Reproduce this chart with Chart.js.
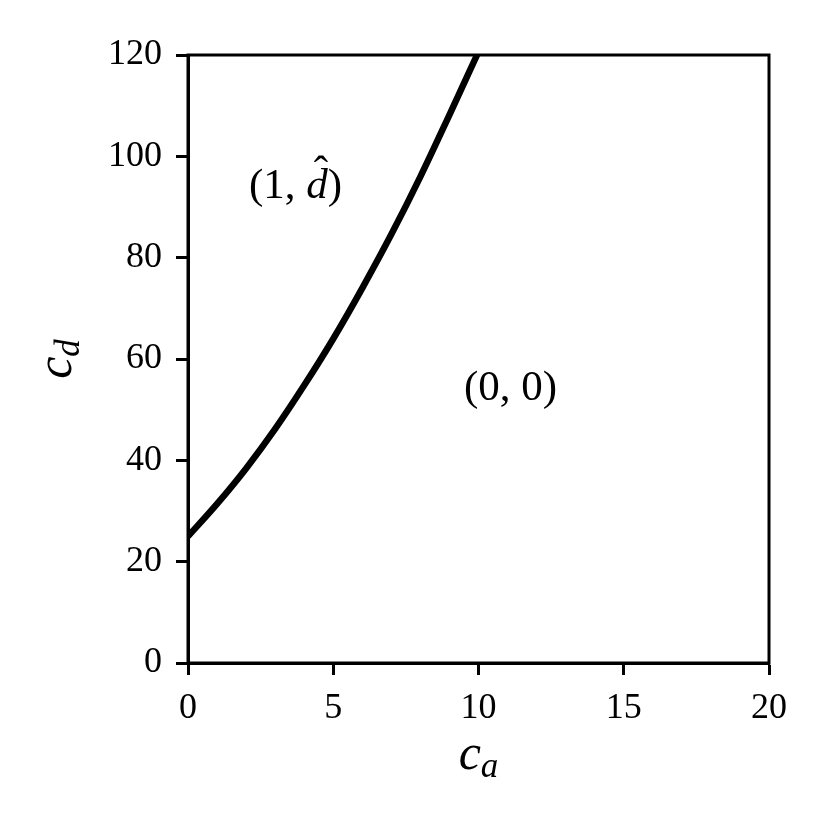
<!DOCTYPE html>
<html>
<head>
<meta charset="utf-8">
<script src="https://cdn.jsdelivr.net/npm/chart.js@4"></script>
<style>
  html, body { margin: 0; padding: 0; background: #fff; }
</style>
</head>
<body>
<canvas id="chart" width="830" height="830"></canvas>
<script>
// Граница между областями
const caValues = [0, 1, 2, 3, 4, 5, 6, 7, 8, 9, 9.95];
const cdValues = [25, 31.4, 38.4, 46.2, 54.8, 64.0, 74.0, 84.6, 96.0, 108.2, 120];

// Деления осей
const xTicks = [0, 5, 10, 15, 20];
const yTicks = [0, 20, 40, 60, 80, 100, 120];

// Подписи областей
const regionTexts = ["(1, ", "d", ")", "(0, 0)"];

const SERIF = "'Liberation Serif', 'DejaVu Serif', serif";

// Рисует строку из кусков с разными шрифтами, по центру x
function drawRuns(ctx, x, y, runs) {
  let total = 0;
  runs.forEach((r) => {
    ctx.font = r.font;
    r.w = ctx.measureText(r.t).width;
    total += r.w;
  });
  let cx = x - total / 2;
  const pos = [];
  runs.forEach((r) => {
    ctx.font = r.font;
    ctx.fillText(r.t, cx, y + (r.dy || 0));
    pos.push(cx);
    cx += r.w;
  });
  return pos;
}

// Рамка, подписи осей и областей
const mathText = {
  id: "mathText",
  afterDraw(chart) {
    const ctx = chart.ctx;
    const area = chart.chartArea;
    const xs = chart.scales.x;
    const ys = chart.scales.y;
    ctx.save();
    ctx.strokeStyle = "#000";
    ctx.lineWidth = 3;
    ctx.strokeRect(area.left, area.top, area.right - area.left, area.bottom - area.top);

    ctx.fillStyle = "#000";
    ctx.textAlign = "left";
    ctx.textBaseline = "alphabetic";

    // подпись оси x
    drawRuns(ctx, (area.left + area.right) / 2, 769, [
      { t: "c", font: "italic 50px " + SERIF },
      { t: "a", font: "italic 35px " + SERIF, dy: 8 },
    ]);

    // подпись оси y
    ctx.save();
    ctx.translate(71, (area.top + area.bottom) / 2);
    ctx.rotate(-Math.PI / 2);
    drawRuns(ctx, 0, 0, [
      { t: "c", font: "italic 50px " + SERIF },
      { t: "d", font: "italic 35px " + SERIF, dy: 8 },
    ]);
    ctx.restore();

    // (1, d^)
    const up = "43px " + SERIF;
    const it = "italic 43px " + SERIF;
    const p1 = drawRuns(ctx, xs.getPixelForValue(3.7), ys.getPixelForValue(94) + 11, [
      { t: regionTexts[0], font: up },
      { t: regionTexts[1], font: it },
      { t: regionTexts[2], font: up },
    ]);
    ctx.font = it;
    const dw = ctx.measureText(regionTexts[1]).width;
    ctx.font = up;
    ctx.textAlign = "center";
    ctx.fillText("\u02C6", p1[1] + dw / 2 + 4, ys.getPixelForValue(94) + 11 - 13);
    ctx.textAlign = "left";

    // (0, 0)
    drawRuns(ctx, xs.getPixelForValue(11.1), ys.getPixelForValue(54) + 11, [
      { t: regionTexts[3], font: up },
    ]);
    ctx.restore();
  },
};

const canvas = document.getElementById("chart");
const ctx = canvas.getContext("2d");

new Chart(ctx, {
  type: "scatter",
  data: {
    datasets: [
      {
        data: caValues.map((x, i) => ({ x: x, y: cdValues[i] })),
        showLine: true,
        borderColor: "#000",
        borderWidth: 6.5,
        pointRadius: 0,
        cubicInterpolationMode: "monotone",
        fill: false,
      },
    ],
  },
  options: {
    responsive: false,
    animation: false,
    devicePixelRatio: 1,
    layout: {
      padding: { top: 55, right: 61, left: 0, bottom: 0 },
    },
    plugins: {
      legend: { display: false },
      tooltip: { enabled: false },
    },
    scales: {
      x: {
        type: "linear",
        position: "bottom",
        min: 0,
        max: 20,
        afterBuildTicks: (s) => {
          s.ticks = xTicks.map((v) => ({ value: v }));
        },
        afterFit: (s) => {
          s.height = 167;
        },
        grid: {
          drawOnChartArea: false,
          tickLength: 12,
          tickWidth: 3,
          tickColor: "#000",
        },
        border: { display: true, color: "#000", width: 3 },
        ticks: {
          color: "#000",
          font: { family: SERIF, size: 36 },
          padding: 12,
          maxRotation: 0,
          autoSkip: false,
        },
      },
      y: {
        type: "linear",
        position: "left",
        min: 0,
        max: 120,
        afterBuildTicks: (s) => {
          s.ticks = yTicks.map((v) => ({ value: v }));
        },
        afterFit: (s) => {
          s.width = 188;
        },
        grid: {
          drawOnChartArea: false,
          tickLength: 12,
          tickWidth: 3,
          tickColor: "#000",
        },
        border: { display: true, color: "#000", width: 3 },
        ticks: {
          color: "#000",
          font: { family: SERIF, size: 36 },
          padding: 14,
          autoSkip: false,
        },
      },
    },
  },
  plugins: [mathText],
});
</script>
</body>
</html>
